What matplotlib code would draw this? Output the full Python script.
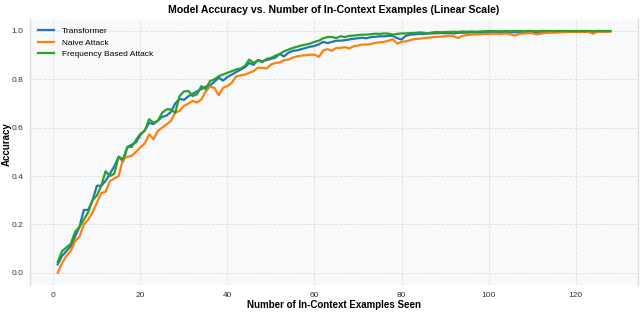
import numpy as np
import matplotlib
matplotlib.use("Agg")
import matplotlib.pyplot as plt

plt.rcParams['font.family'] = ['Liberation Sans', 'DejaVu Sans']

# accuracy per number of in-context examples (1..128)
examples = list(range(1, 129))

transformer = [
    0.035, 0.07, 0.09, 0.11, 0.15, 0.19, 0.26, 0.26, 0.30, 0.36,
    0.36, 0.38, 0.41, 0.44, 0.48, 0.46, 0.52, 0.53, 0.54, 0.57,
    0.59, 0.62, 0.615, 0.63, 0.645, 0.65, 0.665, 0.70, 0.72, 0.715,
    0.73, 0.74, 0.75, 0.76, 0.77, 0.775, 0.79, 0.807, 0.795, 0.81,
    0.82, 0.83, 0.84, 0.85, 0.868, 0.86, 0.88, 0.875, 0.88, 0.885,
    0.89, 0.905, 0.895, 0.91, 0.918, 0.92, 0.925, 0.93, 0.935, 0.938,
    0.945, 0.955, 0.95, 0.955, 0.96, 0.96, 0.962, 0.965, 0.968, 0.97,
    0.972, 0.97, 0.975, 0.976, 0.978, 0.978, 0.98, 0.98, 0.97, 0.965,
    0.98, 0.985, 0.986, 0.988, 0.987, 0.99, 0.99, 0.991, 0.992, 0.991,
    0.992, 0.99, 0.992, 0.993, 0.993, 0.994, 0.994, 0.993, 0.994, 0.995,
    0.994, 0.995, 0.995, 0.994, 0.996, 0.995, 0.996, 0.995, 0.996, 0.995,
    0.994, 0.99, 0.995, 0.996, 0.997, 0.997, 0.998, 0.997, 0.998, 0.997,
    0.998, 0.997, 0.998, 0.997, 0.998, 0.998, 0.998, 0.999,
]

naive = [
    0.0, 0.04, 0.07, 0.09, 0.13, 0.15, 0.20, 0.22, 0.25, 0.29,
    0.33, 0.335, 0.38, 0.39, 0.40, 0.47, 0.48, 0.484, 0.50, 0.52,
    0.535, 0.573, 0.553, 0.587, 0.60, 0.614, 0.628, 0.662, 0.67, 0.69,
    0.70, 0.711, 0.704, 0.717, 0.75, 0.77, 0.765, 0.734, 0.765, 0.772,
    0.786, 0.813, 0.816, 0.82, 0.827, 0.834, 0.848, 0.848, 0.845, 0.861,
    0.868, 0.87, 0.879, 0.882, 0.89, 0.895, 0.898, 0.90, 0.902, 0.902,
    0.893, 0.92, 0.925, 0.918, 0.93, 0.93, 0.933, 0.928, 0.937, 0.94,
    0.944, 0.944, 0.946, 0.951, 0.953, 0.955, 0.96, 0.966, 0.948, 0.955,
    0.957, 0.962, 0.967, 0.968, 0.97, 0.972, 0.974, 0.976, 0.977, 0.978,
    0.981, 0.978, 0.971, 0.98, 0.983, 0.985, 0.986, 0.986, 0.988, 0.988,
    0.989, 0.989, 0.988, 0.99, 0.987, 0.981, 0.988, 0.99, 0.991, 0.991,
    0.986, 0.99, 0.992, 0.993, 0.993, 0.994, 0.995, 0.996, 0.997, 0.996,
    0.996, 0.997, 0.996, 0.989, 0.997, 0.998, 0.997, 0.998,
]

frequency = [
    0.045, 0.09, 0.105, 0.12, 0.17, 0.19, 0.22, 0.25, 0.30, 0.32,
    0.36, 0.42, 0.40, 0.41, 0.48, 0.47, 0.52, 0.52, 0.55, 0.575,
    0.587, 0.635, 0.621, 0.628, 0.662, 0.676, 0.676, 0.662, 0.731, 0.75,
    0.752, 0.731, 0.738, 0.772, 0.759, 0.793, 0.80, 0.813, 0.82, 0.827,
    0.834, 0.841, 0.845, 0.855, 0.882, 0.868, 0.879, 0.871, 0.885, 0.889,
    0.898, 0.905, 0.916, 0.923, 0.93, 0.935, 0.94, 0.944, 0.948, 0.955,
    0.96, 0.97, 0.975, 0.975, 0.971, 0.978, 0.975, 0.98, 0.981, 0.983,
    0.985, 0.985, 0.987, 0.989, 0.988, 0.99, 0.989, 0.985, 0.988, 0.99,
    0.99, 0.991, 0.992, 0.994, 0.993, 0.989, 0.994, 0.996, 0.995, 0.996,
    0.996, 0.997, 0.996, 0.998, 0.997, 0.998, 0.997, 0.998, 0.999, 1.0,
    1.0, 0.999, 0.999, 1.0, 0.999, 1.0, 1.0, 0.999, 1.0, 1.0,
    0.999, 1.0, 1.0, 1.0, 0.999, 1.0, 1.0, 1.0, 0.999, 1.0,
    1.0, 1.0, 1.0, 0.999, 1.0, 1.0, 1.0, 1.0,
]

series = [("Transformer", transformer, "#1f77b4"),
          ("Naive Attack", naive, "#ff7f0e"),
          ("Frequency Based Attack", frequency, "#2ca02c")]

fig = plt.figure(figsize=(6.4, 3.26), dpi=100)
ax = fig.add_axes([0.047, 0.126, 0.95, 0.816])
ax.set_facecolor('#f8f9fa')

for name, vals, col in series:
    ax.plot(examples, vals, color=col, lw=1.6, label=name)

ax.set_xticks(np.arange(0, 121, 20))
ax.set_yticks(np.arange(0, 1.01, 0.2))
ax.tick_params(length=0, labelsize=6, colors='#333333', pad=5)
ax.grid(True, linestyle='--', color='#dddddd', linewidth=0.6)
ax.set_axisbelow(True)
for side in ['top', 'bottom']:
    ax.spines[side].set_visible(False)
for side in ['left', 'right']:
    ax.spines[side].set_color('#dddddd')
    ax.spines[side].set_linewidth(1.0)

ax.set_title("Model Accuracy vs. Number of In-Context Examples (Linear Scale)",
             fontsize=7.6, fontweight='bold', pad=4.5)
ax.set_xlabel("Number of In-Context Examples Seen", fontsize=7, fontweight='bold', labelpad=1)
ax.set_ylabel("Accuracy", fontsize=7, fontweight='bold')
ax.yaxis.set_label_coords(-0.03, 0.53)

leg = ax.legend(loc='upper left', fontsize=6, frameon=False, handlelength=1.9,
                handletextpad=0.9, borderaxespad=0.6, labelspacing=0.45)

fig.savefig("out.png", dpi=100)
